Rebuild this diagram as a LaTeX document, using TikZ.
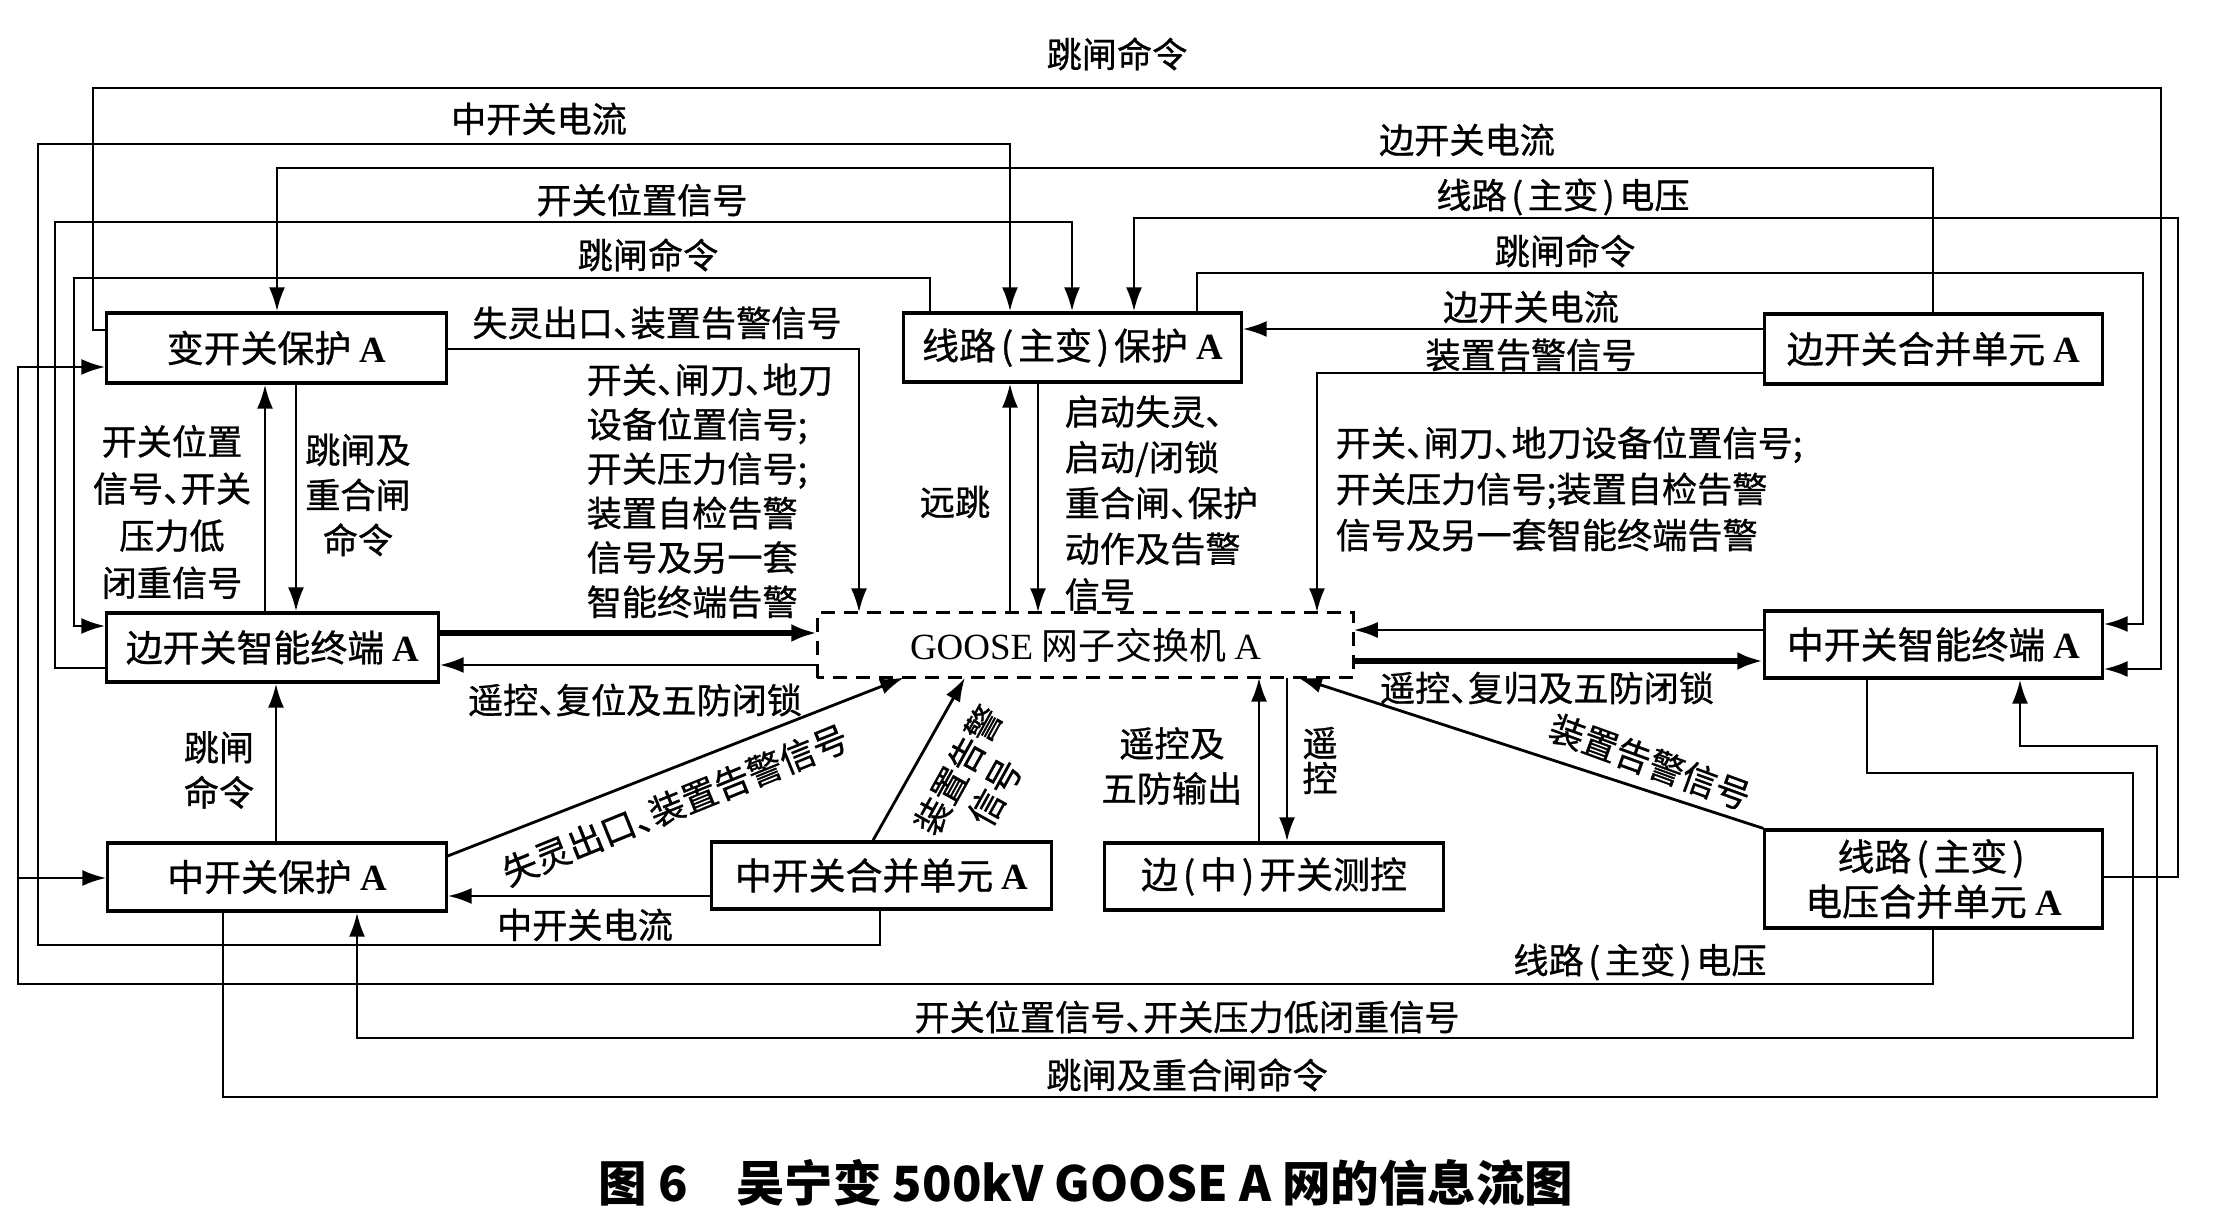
\documentclass[tikz,border=0pt]{standalone}
\usepackage{fontspec}
\setmainfont{Liberation Serif}
\newfontfamily\cjk[FakeBold=0.8]{Noto Sans CJK SC}
\newfontfamily\cjkc{Noto Sans CJK SC}
\usetikzlibrary{arrows.meta}
\newcommand{\lA}{{\rmfamily\bfseries A}}
\newcommand{\dn}{\makebox[0.5em][l]{、}}
\newcommand{\lp}{\makebox[0.6em]{(}}
\newcommand{\rp}{\makebox[0.6em]{)}}
\tikzset{
  box/.style={draw, line width=0.9pt, inner sep=0pt, font=\cjk\fontsize{10.5}{12.8}\selectfont, align=center},
  lbl/.style={inner sep=0pt, font=\cjk\fontsize{10}{12.8}\selectfont, align=center},
  con/.style={line width=0.8pt},
  arr/.style={con, -{Latex[length=2.4mm,width=1.6mm]}},
  tarr/.style={line width=1.6pt, -{Latex[length=2.6mm,width=1.8mm]}},
}
\begin{document}
\begin{tikzpicture}[x=0.01cm,y=-0.01cm]
\fill[white] (0,0) rectangle (2214,1228);
\useasboundingbox (0,0) rectangle (2214,1228);
% boxes
\node[box, minimum width=3.39cm, minimum height=0.70cm] (B1) at (276.5,348) {变开关保护 \lA};
\node[box, minimum width=3.37cm, minimum height=0.69cm] (B2) at (1072.5,347.5) {线路\lp 主变\rp 保护 \lA};
\node[box, minimum width=3.37cm, minimum height=0.70cm] (B3) at (1933.5,349) {边开关合并单元 \lA};
\node[box, minimum width=3.31cm, minimum height=0.69cm] (B4) at (272.5,647.5) {边开关智能终端 \lA};
\node[box, draw=none, minimum width=5.33cm, minimum height=0.62cm, font=\cjkc\fontsize{10.5}{12.8}\selectfont] (G) at (1085.5,645) {{\rmfamily GOOSE} 网子交换机 {\rmfamily A}};
\draw[line width=0.9pt, dash pattern=on 1.4mm off 0.9mm] (G.south west) rectangle (G.north east);
\node[box, minimum width=3.37cm, minimum height=0.67cm] (B5) at (1933.5,644.5) {中开关智能终端 \lA};
\node[box, minimum width=3.38cm, minimum height=0.68cm] (B6) at (277,877) {中开关保护 \lA};
\node[box, minimum width=3.39cm, minimum height=0.67cm] (B7) at (881.5,875.5) {中开关合并单元 \lA};
\node[box, minimum width=3.38cm, minimum height=0.67cm] (B8) at (1274,876.5) {边\lp 中\rp 开关测控};
\node[box, minimum width=3.37cm, minimum height=0.98cm] (B9) at (1933.5,879) {线路\lp 主变\rp\\电压合并单元 \lA};

% top loops
\draw[arr] (B1.west |- 0,330) -- (93,330) -- (93,88) -- (2161,88) -- (2161,669) -- (B5.east |- 0,669);
\draw[arr] (B7.south -| 880,0) -- (880,945) -- (38,945) -- (38,144) -- (1010,144) -- (B2.north -| 1010,0);
\draw[arr] (B3.north -| 1933,0) -- (1933,168) -- (277,168) -- (B1.north -| 277,0);
\draw[arr] (B4.west |- 0,668) -- (55,668) -- (55,222) -- (1072,222) -- (B2.north -| 1072,0);
\draw[arr] (B2.north -| 930,0) -- (930,278) -- (74,278) -- (74,626) -- (B4.west |- 0,626);
\draw[arr] (B9.east |- 0,877) -- (2178,877) -- (2178,218) -- (1134,218) -- (B2.north -| 1134,0);
\draw[arr] (B2.north -| 1197,0) -- (1197,273) -- (2143,273) -- (2143,624) -- (B5.east |- 0,624);
\draw[arr] (B3.west |- 0,329) -- (B2.east |- 0,329);
\draw[arr] (B3.west |- 0,373) -- (1317,373) -- (G.north -| 1317,0);
\draw[arr] (B1.east |- 0,349) -- (859,349) -- (G.north -| 859,0);

% left column
\draw[arr] (B4.north -| 265,0) -- (B1.south -| 265,0);
\draw[arr] (B1.south -| 296,0) -- (B4.north -| 296,0);
\draw[arr] (B6.north -| 276,0) -- (B4.south -| 276,0);
\draw[tarr] (B4.east |- 0,633) -- (G.west |- 0,633);
\draw[arr] (G.west |- 0,665) -- (B4.east |- 0,665);

% line voltage to left
\draw[arr] (B9.south -| 1933,0) -- (1933,984) -- (18,984) -- (18,367) -- (B1.west |- 0,367);
\draw[arr] (18,878) -- (B6.west |- 0,878);

% middle
\draw[arr] (G.north -| 1010,0) -- (B2.south -| 1010,0);
\draw[arr] (B2.south -| 1038,0) -- (G.north -| 1038,0);
\draw[arr] (B7.west |- 0,896) -- (B6.east |- 0,896);
\draw[arr] (B6.east |- 0,856) -- (G.south -| 904,0);
\draw[arr] (B7.north -| 873,0) -- (G.south -| 965,0);
\draw[arr] (B8.north -| 1259,0) -- (G.south -| 1259,0);
\draw[arr] (G.south -| 1287,0) -- (B8.north -| 1287,0);
\draw[arr] (B9.north west) -- (G.south -| 1298,0);

% right
\draw[tarr] (G.east |- 0,661) -- (B5.west |- 0,661);
\draw[arr] (B5.west |- 0,630) -- (G.east |- 0,630);

% bottom loops
\draw[arr] (B5.south -| 1867,0) -- (1867,773) -- (2133,773) -- (2133,1038) -- (357,1038) -- (B6.south -| 357,0);
\draw[arr] (B6.south -| 223,0) -- (223,1097) -- (2157,1097) -- (2157,746) -- (2020,746) -- (B5.south -| 2020,0);

% labels
\node[lbl] (L1) at (1117,54) {跳闸命令};
\node[lbl] (L2) at (539,119) {中开关电流};
\node[lbl] (L3) at (1467,140) {边开关电流};
\node[lbl] (L4) at (642,200) {开关位置信号};
\node[lbl] (L5) at (1563,197) {线路\lp 主变\rp 电压};
\node[lbl] (L6) at (648,255) {跳闸命令};
\node[lbl] (L7) at (1565,251) {跳闸命令};
\node[lbl] (L8) at (1531,307) {边开关电流};
\node[lbl] (L9) at (657,323) {失灵出口\dn 装置告警信号};
\node[lbl] (L10) at (1531,355) {装置告警信号};
\node[lbl, align=left, anchor=west, font=\cjk\fontsize{10}{12.63}\selectfont] (L11) at (586,491) {开关\dn 闸刀\dn 地刀\\设备位置信号;\\开关压力信号;\\装置自检告警\\信号及另一套\\智能终端告警};
\node[lbl, align=left, anchor=west, font=\cjk\fontsize{10}{13}\selectfont] (L12) at (1064,503) {启动失灵\dn\\启动/闭锁\\重合闸\dn 保护\\动作及告警\\信号};
\node[lbl] (L13) at (955,502) {远跳};
\node[lbl, font=\cjk\fontsize{10}{13.4}\selectfont] (L14) at (172,512) {开关位置\\信号\dn 开关\\压力低\\闭重信号};
\node[lbl] (L15) at (358,495) {跳闸及\\重合闸\\命令};
\node[lbl, align=left, anchor=west, font=\cjk\fontsize{10}{13.1}\selectfont] (L16) at (1335,489) {开关\dn 闸刀\dn 地刀设备位置信号;\\开关压力信号;装置自检告警\\信号及另一套智能终端告警};
\node[lbl] (L17) at (635,700) {遥控\dn 复位及五防闭锁};
\node[lbl] (L18) at (1547,688) {遥控\dn 复归及五防闭锁};
\node[lbl] (L19) at (219,770) {跳闸\\命令};
\node[lbl] (L20) at (1172,766) {遥控及\\五防输出};
\node[lbl] (L21a) at (1320,743) {遥};
\node[lbl] (L21b) at (1320,778) {控};
\node[lbl, rotate=22] (L22) at (675,805) {失灵出口\dn 装置告警信号};
\node[lbl, rotate=61] (L23a) at (958,770) {装置告警};
\node[lbl, rotate=61] (L23b) at (995,792) {信号};
\node[lbl, rotate=-20] (L24) at (1650,762) {装置告警信号};
\node[lbl] (L25) at (585,925) {中开关电流};
\node[lbl] (L26) at (1640,962) {线路\lp 主变\rp 电压};
\node[lbl] (L27) at (1187,1017) {开关位置信号\dn 开关压力低闭重信号};
\node[lbl] (L28) at (1187,1075) {跳闸及重合闸命令};
\node[inner sep=0pt, font=\cjkc\bfseries\fontsize{13.8}{16}\selectfont] (CAP) at (1086,1183) {图 6\hspace{1em}吴宁变 500kV GOOSE A 网的信息流图};
\end{tikzpicture}
\end{document}
